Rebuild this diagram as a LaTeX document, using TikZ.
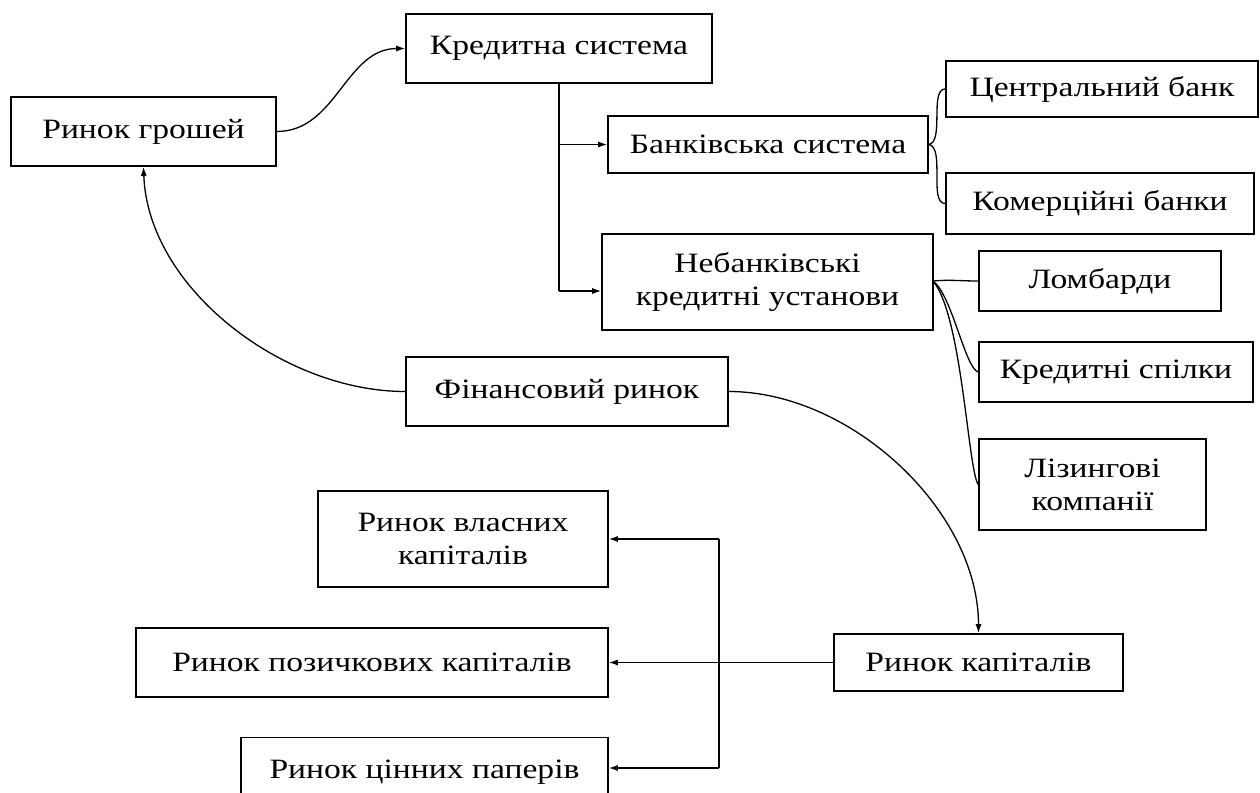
\documentclass[tikz,border=0pt]{standalone}
\usepackage{fontspec}
\setmainfont{Liberation Serif}[FakeStretch=1.2]
\usetikzlibrary{arrows.meta}
\begin{document}
\begin{tikzpicture}[x=0.5pt,y=-0.5pt,
  box/.style={draw, line width=0.8pt, inner sep=0pt, align=center,
    font=\fontsize{14}{16.5}\selectfont},
  con/.style={line width=0.65pt},
  arr/.style={con, -{Latex[length=4.5pt,width=3pt]}}]
\useasboundingbox (0,0) rectangle (1260,793);
\node[box, minimum width=153pt, minimum height=34.5pt] (kred) at (559,48.5) {Кредитна система};
\node[box, minimum width=132.5pt, minimum height=34.5pt] (groshi) at (143.5,131.5) {Ринок грошей};
\node[box, minimum width=160pt, minimum height=28.5pt] (bank) at (768,144.5) {Банківська система};
\node[box, minimum width=156pt, minimum height=28pt] (central) at (1102,89) {Центральний банк};
\node[box, minimum width=154pt, minimum height=30.5pt] (komerc) at (1100,203.5) {Комерційні банки};
\node[box, minimum width=165.5pt, minimum height=48pt] (nebank) at (767.5,282) {Небанківські\\кредитні установи};
\node[box, minimum width=121pt, minimum height=30pt] (lomb) at (1100,281) {Ломбарди};
\node[box, minimum width=137pt, minimum height=30pt] (spilky) at (1116,372) {Кредитні спілки};
\node[box, minimum width=113.5pt, minimum height=45.5pt] (lizing) at (1092.5,484.5) {Лізингові\\компанії};
\node[box, minimum width=161pt, minimum height=34.5pt] (fin) at (567,391.5) {Фінансовий ринок};
\node[box, minimum width=145pt, minimum height=48pt] (vlasn) at (463,539) {Ринок власних\\капіталів};
\node[box, minimum width=236pt, minimum height=34.5pt] (pozych) at (372,662.5) {Ринок позичкових капіталів};
\node[box, minimum width=183.5pt, minimum height=34.5pt] (cinni) at (424.5,772) {Ринок цінних паперів};
\node[box, minimum width=144.5pt, minimum height=28.5pt] (kapital) at (978.5,662.5) {Ринок капіталів};

% credit system tree
\coordinate (k1) at (559,144.5);
\coordinate (k2) at (559,291);
\draw[con] (kred.south) -- (k2);
\draw[arr] (k1) -- (k1 -| bank.west);
\draw[arr] (k2) -- (k2 -| nebank.west);

% money market -> credit system
\draw[arr] (groshi.east) to[out=0,in=180] (kred.west);
% financial market -> money market
\draw[arr] (fin.west) to[out=180,in=-88,looseness=0.9] (groshi.south);
% financial market -> capital market
\draw[arr] (fin.east) to[out=0,in=90,looseness=0.9] (kapital.north);

% bank system branches
\draw[con] (bank.east) to[out=10,in=180,looseness=0.7] (central.west);
\draw[con] (bank.east) to[out=-10,in=180,looseness=0.7] (komerc.west);

% non-bank branches
\coordinate (nb) at (933,281);
\draw[con] (nb) to[out=5,in=180] (lomb.west);
\draw[con] (nb) .. controls (952,295) and (965,368) .. (spilky.west);
\draw[con] (nb) .. controls (962,315) and (968,470) .. (lizing.west);

% capital market tree
\coordinate (v1) at (719,539);
\coordinate (v3) at (719,768);
\draw[con] (v1) -- (v3);
\draw[arr] (v1) -- (v1 -| vlasn.east);
\draw[arr] (v3) -- (v3 -| cinni.east);
\draw[arr] (kapital.west) -- (pozych.east);
\end{tikzpicture}
\end{document}
